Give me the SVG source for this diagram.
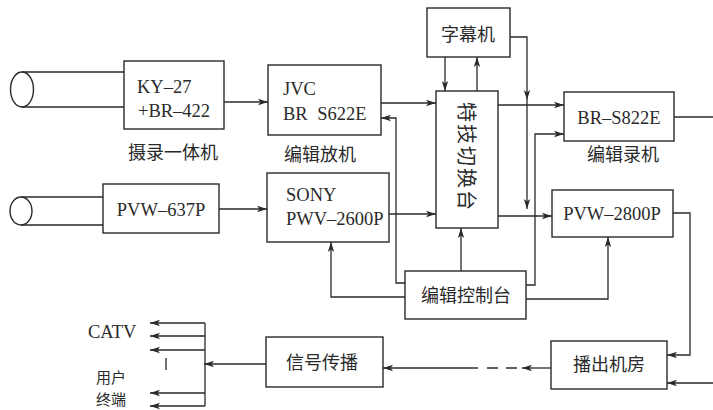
<svg xmlns="http://www.w3.org/2000/svg" width="713" height="410" viewBox="0 0 713 410">
<defs>
<style>
.box{fill:none;stroke:#2a2a2a;stroke-width:1.4}
.ln{fill:none;stroke:#2a2a2a;stroke-width:1.3}
.arr{marker-end:url(#ah)}
.en{font-family:"Liberation Serif","Times New Roman",serif;font-size:18.5px;fill:#2a2a2a}
.zh{font-family:"Noto Sans CJK SC","Noto Sans",sans-serif;font-size:18px;fill:#2a2a2a}
.mid{text-anchor:middle}
</style>
<marker id="ah" markerWidth="11" markerHeight="8" refX="10" refY="4" orient="auto" markerUnits="userSpaceOnUse">
<path d="M0,0.8 L10,4 L0,7.2 L2.5,4 Z" fill="#2a2a2a"/>
</marker>
</defs>
<rect width="713" height="410" fill="#ffffff"/>

<g id="cam1">
<ellipse class="box" cx="22" cy="89.5" rx="11.5" ry="17.5"/>
<path class="ln" d="M22,72 H124 M22,107 H124"/>
<rect class="box" x="124" y="61" width="100" height="68"/>
<text class="en" x="137" y="93">KY–27</text>
<text class="en" x="138" y="117">+BR–422</text>
<text class="zh" x="173" y="159" text-anchor="middle">摄录一体机</text>
</g>

<g id="cam2">
<ellipse class="box" cx="21" cy="211" rx="11" ry="14"/>
<path class="ln" d="M21,197 H103 M21,225 H103"/>
<rect class="box" x="103" y="184" width="116" height="49"/>
<text class="en mid" x="161" y="216">PVW–637P</text>
</g>

<g id="jvc">
<rect class="box" x="268" y="65" width="113" height="70"/>
<text class="en" x="283" y="95">JVC</text>
<text class="en" x="283" y="120" style="word-spacing:5px">BR S622E</text>
<text class="zh" x="320" y="161" text-anchor="middle">编辑放机</text>
</g>

<g id="sony">
<rect class="box" x="267" y="173" width="122" height="69"/>
<text class="en" x="286" y="201">SONY</text>
<text class="en" x="286" y="225">PWV–2600P</text>
</g>

<g id="caption">
<rect class="box" x="427" y="8" width="83" height="49"/>
<text class="zh mid" x="468" y="41">字幕机</text>
</g>

<g id="switcher">
<rect class="box" x="436" y="91" width="62" height="137"/>
<text class="zh mid" x="0" y="0" transform="translate(459,157) rotate(90)" style="font-size:20px;letter-spacing:2px">特技切换台</text>
</g>

<g id="controller">
<rect class="box" x="405" y="271" width="121" height="48"/>
<text class="zh mid" x="466" y="302">编辑控制台</text>
</g>

<g id="rec1">
<rect class="box" x="564" y="92" width="110" height="49"/>
<text class="en mid" x="619" y="124">BR–S822E</text>
<text class="zh mid" x="623" y="161">编辑录机</text>
</g>

<g id="rec2">
<rect class="box" x="552" y="190" width="121" height="47"/>
<text class="en mid" x="612" y="220">PVW–2800P</text>
</g>

<g id="broadcast">
<rect class="box" x="551" y="341" width="116" height="48"/>
<text class="zh mid" x="609" y="371">播出机房</text>
</g>

<g id="transmit">
<rect class="box" x="266" y="337" width="117" height="50"/>
<text class="zh mid" x="322" y="369">信号传播</text>
</g>

<g id="terminals">
<text class="en" x="88" y="338">CATV</text>
<text class="zh" x="96" y="383" style="font-size:15px">用户</text>
<text class="zh" x="96" y="405" style="font-size:15px">终端</text>
</g>

<g id="connectors">
<path class="ln arr" d="M224,102 H268"/>
<path class="ln arr" d="M219,209 H267"/>
<path class="ln arr" d="M381,103 H436"/>
<path class="ln arr" d="M405,283 H396 V118 H381"/>
<path class="ln arr" d="M405,297 H331 V242"/>
<path class="ln arr" d="M389,214 H436"/>
<path class="ln arr" d="M445,57 V91"/>
<path class="ln arr" d="M477,91 V57"/>
<path class="ln arr" d="M510,37 H527 V100"/>
<path class="ln arr" d="M527,100 V209"/>
<path class="ln arr" d="M498,105 H564"/>
<path class="ln arr" d="M526,285 H535 V134 H564"/>
<path class="ln arr" d="M498,216 H552"/>
<path class="ln arr" d="M461,271 V228"/>
<path class="ln arr" d="M526,299 H608 V237"/>
<path class="ln" d="M674,117 H713"/>
<path class="ln arr" d="M673,213 H690 V355 H667"/>
<path class="ln arr" d="M713,383 H667"/>
<path class="ln arr" d="M551,368 H522"/>
<path class="ln" d="M517,368 H487" stroke-dasharray="11,8"/>
<path class="ln arr" d="M478,368 H383"/>
<path class="ln arr" d="M266,364 H204"/>
<path class="ln" d="M205,323 V406"/>
<path class="ln arr" d="M205,323 H150"/>
<path class="ln arr" d="M205,336 H150"/>
<path class="ln arr" d="M205,350 H150"/>
<path class="ln arr" d="M205,393 H150"/>
<path class="ln arr" d="M205,406 H150"/>
<path class="ln" d="M166,358 V370"/>
</g>
</svg>
